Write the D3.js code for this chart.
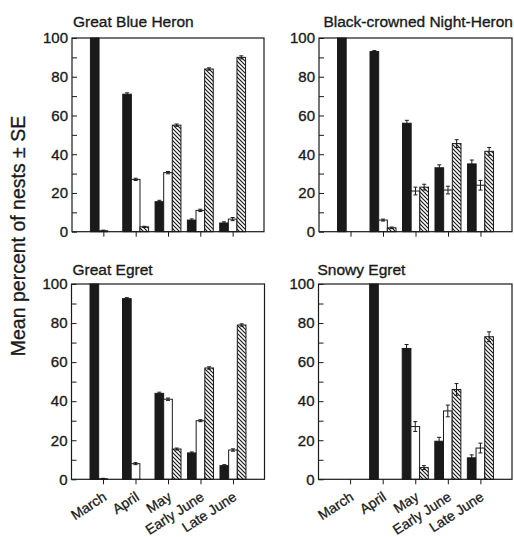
<!DOCTYPE html>
<html>
<head>
<meta charset="utf-8">
<script src="https://cdn.jsdelivr.net/npm/d3@7"></script>
<style>
  html, body { margin: 0; padding: 0; background: #fff; }
  svg { display: block; font-family: "Liberation Sans", Arial, Helvetica, sans-serif; }
</style>
</head>
<body>
<svg id="chart" width="514" height="537"></svg>
<script>
// ---------- data ----------
const categories = ["March", "April", "May", "Early June", "Late June"];
const seriesKeys = ["solid", "open", "hatched"];
const yTicks = [0, 10, 20, 30, 40, 50, 60, 70, 80, 90, 100];
const yTickLabels = ["0", "", "20", "", "40", "", "60", "", "80", "", "100"];
const panelTitles = ["Great Blue Heron", "Black-crowned Night-Heron", "Great Egret", "Snowy Egret"];
const yAxisTitle = "Mean percent of nests \u00B1 SE";

// Great Blue Heron
const gbhSolid = [100, 71, 15.5, 6, 4.5];
const gbhSolidSE = [0, 0.7, 0.7, 0.6, 0.6];
const gbhOpen = [0.5, 27, 30.5, 11, 6.5];
const gbhOpenSE = [0.3, 0.6, 0.6, 0.6, 0.8];
const gbhHatched = [0, 2.5, 55, 84, 90];
const gbhHatchedSE = [0, 0.3, 0.6, 0.6, 0.8];

// Black-crowned Night-Heron
const bcnhSolid = [100, 93, 56, 33, 35];
const bcnhSolidSE = [0, 0.5, 1.5, 1.5, 2];
const bcnhOpen = [0, 6, 21, 21.5, 24];
const bcnhOpenSE = [0, 0.5, 2, 2, 2.5];
const bcnhHatched = [0, 2, 23, 45.5, 41.5];
const bcnhHatchedSE = [0, 0.4, 1.5, 2, 2];

// Great Egret
const geSolid = [100, 92.5, 44, 13.5, 7];
const geSolidSE = [0, 0.5, 0.6, 0.5, 0.5];
const geOpen = [0.3, 8, 41, 30, 15];
const geOpenSE = [0.2, 0.5, 0.6, 0.5, 0.6];
const geHatched = [0, 0, 15.5, 57, 79];
const geHatchedSE = [0, 0, 0.5, 0.6, 0.6];

// Snowy Egret
const seSolid = [0, 100, 67, 19.5, 11];
const seSolidSE = [0, 0, 2, 2, 1.5];
const seOpen = [0, 0, 27, 35, 16];
const seOpenSE = [0, 0, 2.5, 3, 2.5];
const seHatched = [0, 0, 6, 46, 73];
const seHatchedSE = [0, 0, 1, 3, 2.5];

// ---------- layout ----------
const panels = [
  { title: panelTitles[0], vals: [gbhSolid, gbhOpen, gbhHatched], ses: [gbhSolidSE, gbhOpenSE, gbhHatchedSE],
    left: 72, right: 264, top: 38, bottom: 231.7, labels: false, titleX: 73, titleAnchor: "start", titleY: 26.5 },
  { title: panelTitles[1], vals: [bcnhSolid, bcnhOpen, bcnhHatched], ses: [bcnhSolidSE, bcnhOpenSE, bcnhHatchedSE],
    left: 319, right: 512, top: 38, bottom: 231.7, labels: false, titleX: 513, titleAnchor: "end", titleY: 26.5 },
  { title: panelTitles[2], vals: [geSolid, geOpen, geHatched], ses: [geSolidSE, geOpenSE, geHatchedSE],
    left: 71.5, right: 264.5, top: 284, bottom: 479.3, labels: true, titleX: 72.5, titleAnchor: "start", titleY: 275 },
  { title: panelTitles[3], vals: [seSolid, seOpen, seHatched], ses: [seSolidSE, seOpenSE, seHatchedSE],
    left: 318.5, right: 512, top: 284, bottom: 479.3, labels: true, titleX: 317.5, titleAnchor: "start", titleY: 275 }
];

const ink = "#1a1a1a";
const svg = d3.select("#chart");

// hatch pattern
const defs = svg.append("defs");
const pat = defs.append("pattern")
  .attr("id", "hatch")
  .attr("patternUnits", "userSpaceOnUse")
  .attr("width", 4).attr("height", 4);
pat.append("rect").attr("width", 4).attr("height", 4).attr("fill", "#fff");
pat.append("path")
  .attr("d", "M-1,-1 L5,5 M-1,3 L1,5 M3,-1 L5,1")
  .attr("stroke", ink).attr("stroke-width", 1.2);

const fills = { solid: ink, open: "#fff", hatched: "url(#hatch)" };

panels.forEach(p => {
  const g = svg.append("g");
  const y = d3.scaleLinear().domain([0, 100]).range([p.bottom, p.top]);
  const x = d3.scalePoint().domain(categories).range([p.left, p.right]).padding(0.97);
  const step = x.step();
  const x1 = d3.scaleBand().domain(seriesKeys).range([-0.4 * step, 0.4 * step]);

  // bars
  seriesKeys.forEach((k, si) => {
    categories.forEach((c, ci) => {
      const v = p.vals[si][ci];
      if (v <= 0) return;
      const bx = x(c) + x1(k);
      g.append("rect")
        .attr("x", bx).attr("y", y(v))
        .attr("width", x1.bandwidth()).attr("height", y(0) - y(v))
        .attr("fill", fills[k]).attr("stroke", ink).attr("stroke-width", 1);
    });
  });

  // error bars
  seriesKeys.forEach((k, si) => {
    categories.forEach((c, ci) => {
      const v = p.vals[si][ci];
      const se = p.ses[si][ci];
      if (v <= 0 || se <= 0) return;
      const cx = x(c) + x1(k) + x1.bandwidth() / 2;
      g.append("line").attr("x1", cx).attr("x2", cx)
        .attr("y1", y(v + se)).attr("y2", y(Math.max(0, v - se)))
        .attr("stroke", ink).attr("stroke-width", 1);
      [v + se, Math.max(0, v - se)].forEach(t => {
        g.append("line").attr("x1", cx - 2).attr("x2", cx + 2)
          .attr("y1", y(t)).attr("y2", y(t))
          .attr("stroke", ink).attr("stroke-width", 1);
      });
    });
  });

  // frame
  g.append("rect")
    .attr("x", p.left).attr("y", p.top)
    .attr("width", p.right - p.left).attr("height", p.bottom - p.top)
    .attr("fill", "none").attr("stroke", ink).attr("stroke-width", 1.2);

  // y axis (ticks inward)
  const ya = g.append("g").attr("transform", `translate(${p.left},0)`)
    .call(d3.axisLeft(y).tickValues(yTicks).tickSize(-5).tickPadding(4)
      .tickFormat((d, i) => yTickLabels[i]));
  ya.select(".domain").remove();
  ya.selectAll(".tick line").attr("stroke", ink);
  ya.selectAll(".tick text").attr("fill", ink).attr("font-size", 15)
    .attr("stroke", ink).attr("stroke-width", 0.35)
    .attr("font-family", "Liberation Sans, Arial, sans-serif");

  // x axis (ticks outward)
  const xa = g.append("g").attr("transform", `translate(0,${p.bottom})`)
    .call(d3.axisBottom(x).tickSize(5).tickFormat(""));
  xa.select(".domain").remove();
  xa.selectAll(".tick line").attr("stroke", ink);

  if (p.labels) {
    xa.selectAll(".tick").append("text")
      .attr("transform", "translate(4,20) rotate(-33)")
      .attr("text-anchor", "end")
      .attr("fill", ink)
      .attr("stroke", ink).attr("stroke-width", 0.3)
      .attr("font-size", 14)
      .attr("font-family", "Liberation Sans, Arial, sans-serif")
      .text(d => d);
  }

  // title
  svg.append("text")
    .attr("x", p.titleX).attr("y", p.titleY)
    .attr("text-anchor", p.titleAnchor)
    .attr("font-size", 15.5).attr("fill", ink)
    .attr("stroke", ink).attr("stroke-width", 0.35)
    .text(p.title);
});

// shared y-axis title
svg.append("text")
  .attr("transform", "translate(25,236) rotate(-90)")
  .attr("text-anchor", "middle")
  .attr("font-size", 19.5).attr("fill", ink)
  .attr("stroke", ink).attr("stroke-width", 0.3)
  .text(yAxisTitle);
</script>
</body>
</html>
